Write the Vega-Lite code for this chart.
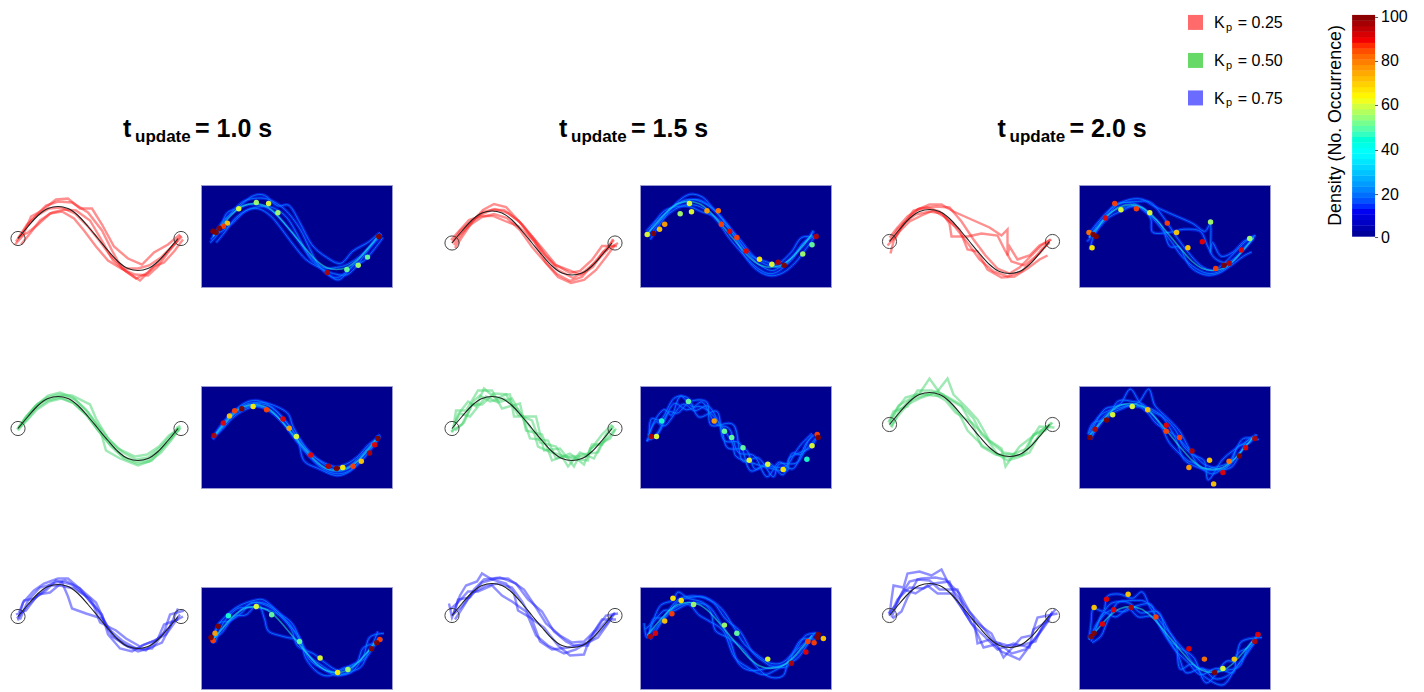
{"$schema":"https://vega.github.io/schema/vega-lite/v6.json","background":"white","padding":{"left":8,"top":8,"right":160,"bottom":0},"bounds":"flush","align":"each","columns":6,"spacing":{"row":99,"column":0},
"config":{"axis":{"disable":true},"view":{"stroke":null},"font":"Liberation Sans","style":{"traj":{"interpolate":"linear","strokeWidth":2.4,"opacity":0.5},"ref":{"interpolate":"monotone","strokeWidth":1.1},"end":{"shape":"circle","size":201,"strokeWidth":1,"opacity":0.9},"glow":{"interpolate":"cardinal","strokeWidth":3.4,"opacity":0.6},"core":{"interpolate":"cardinal","strokeWidth":1,"opacity":0.7},"mid":{"interpolate":"monotone","strokeWidth":1.6,"opacity":0.55},"hot":{"size":30,"opacity":0.95},"big":{"fontWeight":"bold","fontSize":25,"align":"left","baseline":"alphabetic","fill":"#000000"},"sub":{"fontWeight":"bold","fontSize":17,"align":"left","baseline":"alphabetic","fill":"#000000"},"key":{"fontSize":16,"align":"left","baseline":"alphabetic","fill":"#333333"},"keysub":{"fontSize":11,"align":"left","baseline":"alphabetic","fill":"#333333"},"barlabel":{"fontSize":16,"align":"left","baseline":"middle","fill":"#444444"},"bartitle":{"fontSize":17.8,"angle":270,"align":"center","baseline":"middle","fill":"#222222"}}},
"datasets":{
"ref":[{"x":0,"y":0},{"x":10,"y":12},{"x":20,"y":23},{"x":30,"y":30},{"x":40,"y":32},{"x":50,"y":30},{"x":60,"y":23},{"x":70,"y":12},{"x":80,"y":0},{"x":90,"y":-12},{"x":100,"y":-23},{"x":110,"y":-30},{"x":120,"y":-32},{"x":130,"y":-30},{"x":140,"y":-23},{"x":150,"y":-12},{"x":160,"y":0}],
"ends":[{"x":0,"y":0},{"x":163,"y":0}],
"colorbar":[{"d":1.25,"x":255.4,"y":3.69},{"d":3.75,"x":255.4,"y":9.06},{"d":6.25,"x":255.4,"y":14.43},{"d":8.75,"x":255.4,"y":19.81},{"d":11.25,"x":255.4,"y":25.18},{"d":13.75,"x":255.4,"y":30.55},{"d":16.25,"x":255.4,"y":35.92},{"d":18.75,"x":255.4,"y":41.3},{"d":21.25,"x":255.4,"y":46.67},{"d":23.75,"x":255.4,"y":52.04},{"d":26.25,"x":255.4,"y":57.41},{"d":28.75,"x":255.4,"y":62.79},{"d":31.25,"x":255.4,"y":68.16},{"d":33.75,"x":255.4,"y":73.53},{"d":36.25,"x":255.4,"y":78.9},{"d":38.75,"x":255.4,"y":84.28},{"d":41.25,"x":255.4,"y":89.65},{"d":43.75,"x":255.4,"y":95.02},{"d":46.25,"x":255.4,"y":100.39},{"d":48.75,"x":255.4,"y":105.77},{"d":51.25,"x":255.4,"y":111.14},{"d":53.75,"x":255.4,"y":116.51},{"d":56.25,"x":255.4,"y":121.88},{"d":58.75,"x":255.4,"y":127.26},{"d":61.25,"x":255.4,"y":132.63},{"d":63.75,"x":255.4,"y":138},{"d":66.25,"x":255.4,"y":143.37},{"d":68.75,"x":255.4,"y":148.75},{"d":71.25,"x":255.4,"y":154.12},{"d":73.75,"x":255.4,"y":159.49},{"d":76.25,"x":255.4,"y":164.86},{"d":78.75,"x":255.4,"y":170.24},{"d":81.25,"x":255.4,"y":175.61},{"d":83.75,"x":255.4,"y":180.98},{"d":86.25,"x":255.4,"y":186.35},{"d":88.75,"x":255.4,"y":191.73},{"d":91.25,"x":255.4,"y":197.1},{"d":93.75,"x":255.4,"y":202.47},{"d":96.25,"x":255.4,"y":207.84},{"d":98.75,"x":255.4,"y":213.22}],
"ticks":[{"s":"0","x":283.5,"tx":277.7,"y":0},{"s":"20","x":283.5,"tx":277.7,"y":41.7},{"s":"40","x":283.5,"tx":277.7,"y":84.5},{"s":"60","x":283.5,"tx":277.7,"y":128.2},{"s":"80","x":283.5,"tx":277.7,"y":170.9},{"s":"100","x":283.5,"tx":277.7,"y":213.6}],
"a1":[{"t":1,"x":-2,"y":-3},{"t":1,"x":6,"y":8},{"t":1,"x":15,"y":20},{"t":1,"x":28,"y":33},{"t":1,"x":40,"y":37},{"t":1,"x":54,"y":36},{"t":1,"x":70,"y":26},{"t":1,"x":84,"y":8},{"t":1,"x":94,"y":-12},{"t":1,"x":104,"y":-30},{"t":1,"x":118,"y":-40},{"t":1,"x":130,"y":-34},{"t":1,"x":142,"y":-22},{"t":1,"x":154,"y":-8},{"t":1,"x":164,"y":2},
{"t":2,"x":2,"y":2},{"t":2,"x":10,"y":6},{"t":2,"x":20,"y":14},{"t":2,"x":32,"y":25},{"t":2,"x":44,"y":27},{"t":2,"x":56,"y":20},{"t":2,"x":66,"y":8},{"t":2,"x":78,"y":-8},{"t":2,"x":90,"y":-22},{"t":2,"x":103,"y":-30},{"t":2,"x":117,"y":-36},{"t":2,"x":130,"y":-37},{"t":2,"x":140,"y":-28},{"t":2,"x":150,"y":-14},{"t":2,"x":160,"y":-2},
{"t":3,"x":-3,"y":-6},{"t":3,"x":5,"y":3},{"t":3,"x":13,"y":22},{"t":3,"x":24,"y":28},{"t":3,"x":38,"y":39},{"t":3,"x":50,"y":40},{"t":3,"x":62,"y":30},{"t":3,"x":74,"y":30},{"t":3,"x":84,"y":14},{"t":3,"x":96,"y":-8},{"t":3,"x":110,"y":-20},{"t":3,"x":124,"y":-26},{"t":3,"x":136,"y":-14},{"t":3,"x":150,"y":-6},{"t":3,"x":162,"y":4},
{"t":4,"x":0,"y":0},{"t":4,"x":9,"y":14},{"t":4,"x":19,"y":23},{"t":4,"x":31,"y":30},{"t":4,"x":43,"y":31},{"t":4,"x":57,"y":25},{"t":4,"x":70,"y":12},{"t":4,"x":82,"y":-3},{"t":4,"x":93,"y":-18},{"t":4,"x":107,"y":-30},{"t":4,"x":120,"y":-30},{"t":4,"x":131,"y":-27},{"t":4,"x":143,"y":-19},{"t":4,"x":153,"y":-9},{"t":4,"x":163,"y":3},
{"t":5,"x":3,"y":-6},{"t":5,"x":12,"y":5},{"t":5,"x":22,"y":18},{"t":5,"x":34,"y":26},{"t":5,"x":46,"y":29},{"t":5,"x":58,"y":28},{"t":5,"x":72,"y":18},{"t":5,"x":85,"y":-4},{"t":5,"x":95,"y":-22},{"t":5,"x":108,"y":-33},{"t":5,"x":122,"y":-42},{"t":5,"x":136,"y":-28},{"t":5,"x":146,"y":-24},{"t":5,"x":156,"y":-13},{"t":5,"x":165,"y":-1}],
"a2":[{"t":1,"x":0,"y":0},{"t":1,"x":8,"y":9},{"t":1,"x":18,"y":18},{"t":1,"x":30,"y":26},{"t":1,"x":42,"y":29},{"t":1,"x":55,"y":25},{"t":1,"x":68,"y":13},{"t":1,"x":80,"y":-4},{"t":1,"x":92,"y":-18},{"t":1,"x":105,"y":-31},{"t":1,"x":118,"y":-38},{"t":1,"x":130,"y":-34},{"t":1,"x":142,"y":-20},{"t":1,"x":152,"y":-8},{"t":1,"x":162,"y":3},
{"t":2,"x":3,"y":-5},{"t":2,"x":10,"y":6},{"t":2,"x":21,"y":22},{"t":2,"x":31,"y":33},{"t":2,"x":42,"y":39},{"t":2,"x":54,"y":36},{"t":2,"x":65,"y":24},{"t":2,"x":77,"y":10},{"t":2,"x":90,"y":-5},{"t":2,"x":104,"y":-22},{"t":2,"x":118,"y":-30},{"t":2,"x":128,"y":-28},{"t":2,"x":140,"y":-17},{"t":2,"x":150,"y":-3},{"t":2,"x":165,"y":-3},
{"t":3,"x":-1,"y":3},{"t":3,"x":7,"y":12},{"t":3,"x":17,"y":23},{"t":3,"x":29,"y":27},{"t":3,"x":41,"y":27},{"t":3,"x":53,"y":22},{"t":3,"x":66,"y":17},{"t":3,"x":82,"y":2},{"t":3,"x":94,"y":-20},{"t":3,"x":106,"y":-34},{"t":3,"x":119,"y":-40},{"t":3,"x":132,"y":-37},{"t":3,"x":144,"y":-27},{"t":3,"x":154,"y":-14},{"t":3,"x":163,"y":-2},
{"t":4,"x":2,"y":-2},{"t":4,"x":9,"y":8},{"t":4,"x":19,"y":21},{"t":4,"x":31,"y":31},{"t":4,"x":43,"y":34},{"t":4,"x":56,"y":30},{"t":4,"x":70,"y":19},{"t":4,"x":83,"y":3},{"t":4,"x":93,"y":-12},{"t":4,"x":103,"y":-22},{"t":4,"x":117,"y":-27},{"t":4,"x":129,"y":-32},{"t":4,"x":141,"y":-24},{"t":4,"x":151,"y":-9},{"t":4,"x":166,"y":0},
{"t":5,"x":1,"y":2},{"t":5,"x":8,"y":12},{"t":5,"x":16,"y":19},{"t":5,"x":28,"y":28},{"t":5,"x":40,"y":33},{"t":5,"x":52,"y":33},{"t":5,"x":67,"y":22},{"t":5,"x":79,"y":6},{"t":5,"x":91,"y":-10},{"t":5,"x":106,"y":-27},{"t":5,"x":121,"y":-35},{"t":5,"x":133,"y":-28},{"t":5,"x":145,"y":-18},{"t":5,"x":155,"y":-7},{"t":5,"x":161,"y":4}],
"a3":[{"t":1,"x":0,"y":0},{"t":1,"x":8,"y":12},{"t":1,"x":18,"y":22},{"t":1,"x":28,"y":32},{"t":1,"x":40,"y":37},{"t":1,"x":52,"y":37},{"t":1,"x":64,"y":30},{"t":1,"x":82,"y":22},{"t":1,"x":100,"y":14},{"t":1,"x":118,"y":12},{"t":1,"x":112,"y":6},{"t":1,"x":120,"y":-5},{"t":1,"x":118,"y":-14},{"t":1,"x":128,"y":-18},{"t":1,"x":140,"y":-14},{"t":1,"x":150,"y":-4},{"t":1,"x":162,"y":2},
{"t":2,"x":-2,"y":-4},{"t":2,"x":6,"y":5},{"t":2,"x":14,"y":18},{"t":2,"x":26,"y":27},{"t":2,"x":40,"y":30},{"t":2,"x":53,"y":28},{"t":2,"x":60,"y":18},{"t":2,"x":62,"y":5},{"t":2,"x":78,"y":5},{"t":2,"x":92,"y":8},{"t":2,"x":108,"y":6},{"t":2,"x":115,"y":-8},{"t":2,"x":122,"y":-20},{"t":2,"x":135,"y":-24},{"t":2,"x":150,"y":-12},{"t":2,"x":160,"y":0},
{"t":3,"x":1,"y":-12},{"t":3,"x":4,"y":0},{"t":3,"x":12,"y":14},{"t":3,"x":24,"y":31},{"t":3,"x":38,"y":34},{"t":3,"x":50,"y":30},{"t":3,"x":66,"y":14},{"t":3,"x":80,"y":-4},{"t":3,"x":90,"y":-18},{"t":3,"x":104,"y":-30},{"t":3,"x":118,"y":-35},{"t":3,"x":132,"y":-30},{"t":3,"x":144,"y":-18},{"t":3,"x":152,"y":-8},{"t":3,"x":160,"y":-1},
{"t":4,"x":3,"y":2},{"t":4,"x":10,"y":10},{"t":4,"x":20,"y":20},{"t":4,"x":32,"y":26},{"t":4,"x":44,"y":31},{"t":4,"x":56,"y":24},{"t":4,"x":70,"y":12},{"t":4,"x":78,"y":-8},{"t":4,"x":88,"y":-10},{"t":4,"x":98,"y":-28},{"t":4,"x":112,"y":-36},{"t":4,"x":125,"y":-35},{"t":4,"x":138,"y":-27},{"t":4,"x":150,"y":-18},{"t":4,"x":158,"y":-14},
{"t":5,"x":0,"y":4},{"t":5,"x":8,"y":14},{"t":5,"x":18,"y":25},{"t":5,"x":30,"y":33},{"t":5,"x":47,"y":35},{"t":5,"x":60,"y":34},{"t":5,"x":72,"y":20},{"t":5,"x":84,"y":2},{"t":5,"x":96,"y":-14},{"t":5,"x":108,"y":-27},{"t":5,"x":120,"y":-32},{"t":5,"x":130,"y":-26},{"t":5,"x":140,"y":-16},{"t":5,"x":152,"y":-4},{"t":5,"x":161,"y":2}],
"b1":[{"t":1,"x":0,"y":0},{"t":1,"x":8,"y":12},{"t":1,"x":18,"y":23},{"t":1,"x":30,"y":33},{"t":1,"x":42,"y":36},{"t":1,"x":55,"y":31},{"t":1,"x":68,"y":19},{"t":1,"x":80,"y":3},{"t":1,"x":92,"y":-12},{"t":1,"x":105,"y":-24},{"t":1,"x":118,"y":-31},{"t":1,"x":130,"y":-29},{"t":1,"x":142,"y":-19},{"t":1,"x":152,"y":-8},{"t":1,"x":162,"y":3},
{"t":2,"x":1,"y":1},{"t":2,"x":9,"y":8},{"t":2,"x":19,"y":19},{"t":2,"x":31,"y":27},{"t":2,"x":43,"y":30},{"t":2,"x":56,"y":25},{"t":2,"x":69,"y":13},{"t":2,"x":81,"y":-3},{"t":2,"x":93,"y":-18},{"t":2,"x":106,"y":-30},{"t":2,"x":119,"y":-35},{"t":2,"x":131,"y":-33},{"t":2,"x":143,"y":-24},{"t":2,"x":153,"y":-12},{"t":2,"x":161,"y":-1},
{"t":3,"x":-1,"y":-1},{"t":3,"x":7,"y":10},{"t":3,"x":17,"y":22},{"t":3,"x":29,"y":31},{"t":3,"x":41,"y":34},{"t":3,"x":54,"y":33},{"t":3,"x":72,"y":24},{"t":3,"x":78,"y":10},{"t":3,"x":90,"y":-10},{"t":3,"x":100,"y":-20},{"t":3,"x":117,"y":-28},{"t":3,"x":129,"y":-26},{"t":3,"x":141,"y":-18},{"t":3,"x":151,"y":-7},{"t":3,"x":163,"y":1},
{"t":4,"x":2,"y":2},{"t":4,"x":10,"y":13},{"t":4,"x":20,"y":25},{"t":4,"x":32,"y":30},{"t":4,"x":44,"y":33},{"t":4,"x":57,"y":29},{"t":4,"x":70,"y":16},{"t":4,"x":82,"y":-1},{"t":4,"x":88,"y":-22},{"t":4,"x":102,"y":-30},{"t":4,"x":120,"y":-37},{"t":4,"x":134,"y":-32},{"t":4,"x":144,"y":-20},{"t":4,"x":154,"y":-9},{"t":4,"x":160,"y":2},
{"t":5,"x":0,"y":-2},{"t":5,"x":8,"y":8},{"t":5,"x":18,"y":20},{"t":5,"x":30,"y":28},{"t":5,"x":42,"y":31},{"t":5,"x":55,"y":26},{"t":5,"x":68,"y":14},{"t":5,"x":80,"y":-2},{"t":5,"x":92,"y":-16},{"t":5,"x":105,"y":-28},{"t":5,"x":118,"y":-33},{"t":5,"x":130,"y":-31},{"t":5,"x":142,"y":-22},{"t":5,"x":152,"y":-11},{"t":5,"x":162,"y":0}],
"b2":[{"t":1,"x":0,"y":-4},{"t":1,"x":6,"y":14},{"t":1,"x":16,"y":27},{"t":1,"x":24,"y":22},{"t":1,"x":32,"y":40},{"t":1,"x":44,"y":30},{"t":1,"x":54,"y":34},{"t":1,"x":66,"y":14},{"t":1,"x":80,"y":8},{"t":1,"x":88,"y":-14},{"t":1,"x":104,"y":-18},{"t":1,"x":116,"y":-38},{"t":1,"x":128,"y":-24},{"t":1,"x":142,"y":-30},{"t":1,"x":154,"y":-6},{"t":1,"x":162,"y":2},
{"t":2,"x":2,"y":5},{"t":2,"x":4,"y":18},{"t":2,"x":14,"y":18},{"t":2,"x":26,"y":38},{"t":2,"x":40,"y":38},{"t":2,"x":50,"y":20},{"t":2,"x":68,"y":25},{"t":2,"x":74,"y":-2},{"t":2,"x":90,"y":-6},{"t":2,"x":100,"y":-32},{"t":2,"x":118,"y":-25},{"t":2,"x":132,"y":-36},{"t":2,"x":140,"y":-16},{"t":2,"x":150,"y":-16},{"t":2,"x":163,"y":-1},
{"t":3,"x":-1,"y":-3},{"t":3,"x":10,"y":4},{"t":3,"x":20,"y":24},{"t":3,"x":30,"y":24},{"t":3,"x":42,"y":35},{"t":3,"x":58,"y":34},{"t":3,"x":62,"y":12},{"t":3,"x":84,"y":12},{"t":3,"x":92,"y":-22},{"t":3,"x":108,"y":-20},{"t":3,"x":122,"y":-38},{"t":3,"x":128,"y":-26},{"t":3,"x":146,"y":-24},{"t":3,"x":156,"y":-4},{"t":3,"x":161,"y":3},
{"t":4,"x":1,"y":2},{"t":4,"x":8,"y":15},{"t":4,"x":18,"y":12},{"t":4,"x":34,"y":32},{"t":4,"x":46,"y":26},{"t":4,"x":60,"y":30},{"t":4,"x":72,"y":8},{"t":4,"x":78,"y":-10},{"t":4,"x":96,"y":-12},{"t":4,"x":104,"y":-30},{"t":4,"x":114,"y":-28},{"t":4,"x":134,"y":-28},{"t":4,"x":144,"y":-14},{"t":4,"x":150,"y":-6},{"t":4,"x":160,"y":4},
{"t":5,"x":3,"y":-2},{"t":5,"x":12,"y":6},{"t":5,"x":22,"y":28},{"t":5,"x":28,"y":33},{"t":5,"x":38,"y":27},{"t":5,"x":52,"y":30},{"t":5,"x":66,"y":19},{"t":5,"x":82,"y":-4},{"t":5,"x":86,"y":-18},{"t":5,"x":100,"y":-24},{"t":5,"x":120,"y":-30},{"t":5,"x":136,"y":-32},{"t":5,"x":138,"y":-20},{"t":5,"x":158,"y":-10},{"t":5,"x":164,"y":0}],
"b3":[{"t":1,"x":0,"y":0},{"t":1,"x":8,"y":16},{"t":1,"x":16,"y":27},{"t":1,"x":30,"y":31},{"t":1,"x":40,"y":46},{"t":1,"x":50,"y":32},{"t":1,"x":62,"y":24},{"t":1,"x":72,"y":18},{"t":1,"x":84,"y":-2},{"t":1,"x":92,"y":-22},{"t":1,"x":106,"y":-30},{"t":1,"x":120,"y":-33},{"t":1,"x":134,"y":-30},{"t":1,"x":146,"y":-16},{"t":1,"x":162,"y":2},
{"t":2,"x":2,"y":-3},{"t":2,"x":10,"y":14},{"t":2,"x":20,"y":24},{"t":2,"x":34,"y":29},{"t":2,"x":48,"y":33},{"t":2,"x":58,"y":46},{"t":2,"x":64,"y":30},{"t":2,"x":76,"y":18},{"t":2,"x":88,"y":5},{"t":2,"x":100,"y":-16},{"t":2,"x":112,"y":-24},{"t":2,"x":116,"y":-42},{"t":2,"x":130,"y":-22},{"t":2,"x":148,"y":-8},{"t":2,"x":158,"y":-2},
{"t":3,"x":-1,"y":2},{"t":3,"x":4,"y":13},{"t":3,"x":18,"y":18},{"t":3,"x":28,"y":34},{"t":3,"x":42,"y":34},{"t":3,"x":54,"y":30},{"t":3,"x":70,"y":10},{"t":3,"x":78,"y":-6},{"t":3,"x":94,"y":-22},{"t":3,"x":102,"y":-26},{"t":3,"x":118,"y":-36},{"t":3,"x":128,"y":-33},{"t":3,"x":140,"y":-28},{"t":3,"x":152,"y":-6},{"t":3,"x":160,"y":0},
{"t":4,"x":1,"y":-2},{"t":4,"x":8,"y":8},{"t":4,"x":18,"y":20},{"t":4,"x":32,"y":27},{"t":4,"x":44,"y":31},{"t":4,"x":56,"y":24},{"t":4,"x":66,"y":12},{"t":4,"x":82,"y":2},{"t":4,"x":96,"y":-12},{"t":4,"x":108,"y":-30},{"t":4,"x":122,"y":-30},{"t":4,"x":138,"y":-24},{"t":4,"x":144,"y":-10},{"t":4,"x":156,"y":-6},{"t":4,"x":163,"y":2},
{"t":5,"x":0,"y":3},{"t":5,"x":9,"y":19},{"t":5,"x":21,"y":26},{"t":5,"x":31,"y":31},{"t":5,"x":43,"y":29},{"t":5,"x":57,"y":28},{"t":5,"x":71,"y":20},{"t":5,"x":84,"y":6},{"t":5,"x":92,"y":-10},{"t":5,"x":104,"y":-20},{"t":5,"x":114,"y":-28},{"t":5,"x":132,"y":-31},{"t":5,"x":142,"y":-14},{"t":5,"x":150,"y":-2},{"t":5,"x":165,"y":-3}],
"c1":[{"t":1,"x":0,"y":-4},{"t":1,"x":5,"y":14},{"t":1,"x":16,"y":26},{"t":1,"x":26,"y":33},{"t":1,"x":40,"y":38},{"t":1,"x":50,"y":38},{"t":1,"x":64,"y":26},{"t":1,"x":78,"y":14},{"t":1,"x":90,"y":-12},{"t":1,"x":104,"y":-24},{"t":1,"x":118,"y":-32},{"t":1,"x":134,"y":-32},{"t":1,"x":146,"y":-16},{"t":1,"x":152,"y":2},{"t":1,"x":166,"y":6},
{"t":2,"x":-2,"y":2},{"t":2,"x":8,"y":6},{"t":2,"x":20,"y":22},{"t":2,"x":32,"y":24},{"t":2,"x":44,"y":34},{"t":2,"x":50,"y":20},{"t":2,"x":54,"y":8},{"t":2,"x":68,"y":3},{"t":2,"x":84,"y":-2},{"t":2,"x":94,"y":-20},{"t":2,"x":110,"y":-30},{"t":2,"x":128,"y":-34},{"t":2,"x":140,"y":-22},{"t":2,"x":146,"y":-8},{"t":2,"x":160,"y":-3},
{"t":3,"x":2,"y":-3},{"t":3,"x":10,"y":16},{"t":3,"x":22,"y":29},{"t":3,"x":30,"y":31},{"t":3,"x":42,"y":31},{"t":3,"x":56,"y":28},{"t":3,"x":72,"y":18},{"t":3,"x":86,"y":-4},{"t":3,"x":96,"y":-20},{"t":3,"x":106,"y":-28},{"t":3,"x":120,"y":-35},{"t":3,"x":130,"y":-32},{"t":3,"x":144,"y":-26},{"t":3,"x":154,"y":-6},{"t":3,"x":165,"y":0},
{"t":4,"x":1,"y":4},{"t":4,"x":6,"y":16},{"t":4,"x":16,"y":18},{"t":4,"x":28,"y":26},{"t":4,"x":38,"y":36},{"t":4,"x":54,"y":32},{"t":4,"x":66,"y":22},{"t":4,"x":84,"y":2},{"t":4,"x":90,"y":-18},{"t":4,"x":102,"y":-32},{"t":4,"x":114,"y":-35},{"t":4,"x":126,"y":-28},{"t":4,"x":138,"y":-24},{"t":4,"x":152,"y":-10},{"t":4,"x":160,"y":8},
{"t":5,"x":-1,"y":-2},{"t":5,"x":9,"y":10},{"t":5,"x":19,"y":20},{"t":5,"x":33,"y":33},{"t":5,"x":47,"y":36},{"t":5,"x":62,"y":28},{"t":5,"x":76,"y":10},{"t":5,"x":82,"y":-6},{"t":5,"x":98,"y":-14},{"t":5,"x":108,"y":-22},{"t":5,"x":122,"y":-30},{"t":5,"x":136,"y":-24},{"t":5,"x":148,"y":-18},{"t":5,"x":158,"y":-4},{"t":5,"x":162,"y":2}],
"c2":[{"t":1,"x":0,"y":-2},{"t":1,"x":-3,"y":12},{"t":1,"x":8,"y":20},{"t":1,"x":14,"y":30},{"t":1,"x":25,"y":34},{"t":1,"x":30,"y":42},{"t":1,"x":40,"y":36},{"t":1,"x":54,"y":32},{"t":1,"x":62,"y":22},{"t":1,"x":66,"y":5},{"t":1,"x":78,"y":-2},{"t":1,"x":92,"y":-12},{"t":1,"x":106,"y":-30},{"t":1,"x":118,"y":-40},{"t":1,"x":132,"y":-39},{"t":1,"x":138,"y":-22},{"t":1,"x":152,"y":-8},{"t":1,"x":162,"y":2},
{"t":2,"x":2,"y":2},{"t":2,"x":6,"y":16},{"t":2,"x":18,"y":18},{"t":2,"x":30,"y":33},{"t":2,"x":44,"y":37},{"t":2,"x":56,"y":37},{"t":2,"x":72,"y":26},{"t":2,"x":84,"y":8},{"t":2,"x":94,"y":-8},{"t":2,"x":108,"y":-20},{"t":2,"x":120,"y":-27},{"t":2,"x":132,"y":-26},{"t":2,"x":144,"y":-14},{"t":2,"x":154,"y":0},{"t":2,"x":166,"y":2},
{"t":3,"x":-2,"y":6},{"t":3,"x":6,"y":13},{"t":3,"x":16,"y":24},{"t":3,"x":26,"y":24},{"t":3,"x":40,"y":30},{"t":3,"x":50,"y":20},{"t":3,"x":60,"y":14},{"t":3,"x":74,"y":4},{"t":3,"x":84,"y":-20},{"t":3,"x":96,"y":-30},{"t":3,"x":112,"y":-38},{"t":3,"x":124,"y":-34},{"t":3,"x":140,"y":-24},{"t":3,"x":148,"y":-16},{"t":3,"x":160,"y":-2},
{"t":4,"x":0,"y":0},{"t":4,"x":9,"y":8},{"t":4,"x":20,"y":22},{"t":4,"x":34,"y":30},{"t":4,"x":46,"y":32},{"t":4,"x":60,"y":28},{"t":4,"x":70,"y":14},{"t":4,"x":80,"y":-4},{"t":4,"x":88,"y":-26},{"t":4,"x":100,"y":-34},{"t":4,"x":116,"y":-32},{"t":4,"x":134,"y":-28},{"t":4,"x":146,"y":-22},{"t":4,"x":156,"y":-8},{"t":4,"x":163,"y":3},
{"t":5,"x":3,"y":-4},{"t":5,"x":12,"y":10},{"t":5,"x":22,"y":26},{"t":5,"x":32,"y":36},{"t":5,"x":48,"y":38},{"t":5,"x":64,"y":32},{"t":5,"x":76,"y":16},{"t":5,"x":90,"y":4},{"t":5,"x":102,"y":-16},{"t":5,"x":114,"y":-26},{"t":5,"x":122,"y":-30},{"t":5,"x":136,"y":-30},{"t":5,"x":142,"y":-16},{"t":5,"x":150,"y":-4},{"t":5,"x":164,"y":-4}],
"c3":[{"t":1,"x":0,"y":0},{"t":1,"x":2,"y":16},{"t":1,"x":4,"y":30},{"t":1,"x":14,"y":28},{"t":1,"x":18,"y":42},{"t":1,"x":30,"y":44},{"t":1,"x":42,"y":40},{"t":1,"x":52,"y":46},{"t":1,"x":60,"y":30},{"t":1,"x":72,"y":14},{"t":1,"x":84,"y":-2},{"t":1,"x":88,"y":-28},{"t":1,"x":100,"y":-24},{"t":1,"x":112,"y":-36},{"t":1,"x":130,"y":-44},{"t":1,"x":142,"y":-28},{"t":1,"x":152,"y":-14},{"t":1,"x":162,"y":2},
{"t":2,"x":2,"y":-2},{"t":2,"x":10,"y":18},{"t":2,"x":20,"y":34},{"t":2,"x":32,"y":37},{"t":2,"x":46,"y":38},{"t":2,"x":56,"y":36},{"t":2,"x":70,"y":22},{"t":2,"x":80,"y":4},{"t":2,"x":92,"y":-10},{"t":2,"x":104,"y":-26},{"t":2,"x":118,"y":-30},{"t":2,"x":130,"y":-30},{"t":2,"x":146,"y":-26},{"t":2,"x":154,"y":-8},{"t":2,"x":166,"y":6},
{"t":3,"x":-1,"y":2},{"t":3,"x":6,"y":10},{"t":3,"x":14,"y":26},{"t":3,"x":26,"y":22},{"t":3,"x":38,"y":30},{"t":3,"x":48,"y":22},{"t":3,"x":62,"y":22},{"t":3,"x":72,"y":8},{"t":3,"x":86,"y":-14},{"t":3,"x":94,"y":-32},{"t":3,"x":110,"y":-28},{"t":3,"x":122,"y":-38},{"t":3,"x":136,"y":-34},{"t":3,"x":150,"y":-18},{"t":3,"x":160,"y":-4},
{"t":4,"x":1,"y":1},{"t":4,"x":8,"y":16},{"t":4,"x":20,"y":28},{"t":4,"x":34,"y":27},{"t":4,"x":44,"y":32},{"t":4,"x":60,"y":34},{"t":4,"x":66,"y":18},{"t":4,"x":82,"y":-8},{"t":4,"x":96,"y":-22},{"t":4,"x":108,"y":-34},{"t":4,"x":124,"y":-28},{"t":4,"x":140,"y":-32},{"t":4,"x":144,"y":-14},{"t":4,"x":158,"y":-6},{"t":4,"x":163,"y":4},
{"t":5,"x":3,"y":-3},{"t":5,"x":12,"y":4},{"t":5,"x":18,"y":18},{"t":5,"x":28,"y":36},{"t":5,"x":40,"y":35},{"t":5,"x":50,"y":26},{"t":5,"x":68,"y":26},{"t":5,"x":76,"y":2},{"t":5,"x":88,"y":-8},{"t":5,"x":102,"y":-18},{"t":5,"x":114,"y":-42},{"t":5,"x":132,"y":-22},{"t":5,"x":142,"y":-20},{"t":5,"x":148,"y":-2},{"t":5,"x":168,"y":2}],
"hot":[{"p":"a1","x":0,"y":5,"d":100},{"p":"a1","x":3,"y":4,"d":100},{"p":"a1","x":6,"y":8,"d":100},{"p":"a1","x":10,"y":10,"d":85},{"p":"a1","x":14,"y":13,"d":70},{"p":"a1","x":25,"y":27,"d":60},{"p":"a1","x":42,"y":33,"d":55},{"p":"a1","x":54,"y":32,"d":60},{"p":"a1","x":63,"y":23,"d":55},{"p":"a1","x":161,"y":0,"d":100},{"p":"a1","x":111,"y":-35,"d":95},{"p":"a1","x":130,"y":-32,"d":50},{"p":"a1","x":150,"y":-20,"d":50},{"p":"a1","x":141,"y":-28,"d":55},
{"p":"a2","x":6,"y":1,"d":100},{"p":"a2","x":0,"y":0,"d":60},{"p":"a2","x":12,"y":5,"d":70},{"p":"a2","x":17,"y":10,"d":75},{"p":"a2","x":41,"y":30,"d":60},{"p":"a2","x":32,"y":20,"d":55},{"p":"a2","x":43,"y":22,"d":60},{"p":"a2","x":58,"y":23,"d":75},{"p":"a2","x":69,"y":23,"d":80},{"p":"a2","x":72,"y":10,"d":85},{"p":"a2","x":80,"y":3,"d":90},{"p":"a2","x":87,"y":-3,"d":85},{"p":"a2","x":96,"y":-16,"d":90},{"p":"a2","x":109,"y":-24,"d":65},{"p":"a2","x":127,"y":-27,"d":95},{"p":"a2","x":133,"y":-30,"d":100},{"p":"a2","x":121,"y":-29,"d":60},{"p":"a2","x":151,"y":-19,"d":55},{"p":"a2","x":164,"y":-2,"d":95},{"p":"a2","x":160,"y":-10,"d":50},
{"p":"a3","x":4,"y":3,"d":100},{"p":"a3","x":7,"y":1,"d":100},{"p":"a3","x":0,"y":5,"d":80},{"p":"a3","x":3,"y":-10,"d":65},{"p":"a3","x":16,"y":19,"d":90},{"p":"a3","x":25,"y":33,"d":85},{"p":"a3","x":31,"y":27,"d":60},{"p":"a3","x":46,"y":28,"d":85},{"p":"a3","x":59,"y":24,"d":60},{"p":"a3","x":76,"y":14,"d":85},{"p":"a3","x":85,"y":5,"d":70},{"p":"a3","x":96,"y":-10,"d":70},{"p":"a3","x":110,"y":-4,"d":90},{"p":"a3","x":123,"y":-30,"d":85},{"p":"a3","x":131,"y":-27,"d":100},{"p":"a3","x":136,"y":-25,"d":95},{"p":"a3","x":148,"y":-12,"d":90},{"p":"a3","x":118,"y":15,"d":55},{"p":"a3","x":156,"y":-1,"d":55},
{"p":"b1","x":1,"y":2,"d":95},{"p":"b1","x":10,"y":14,"d":90},{"p":"b1","x":16,"y":21,"d":70},{"p":"b1","x":28,"y":28,"d":100},{"p":"b1","x":39,"y":30,"d":65},{"p":"b1","x":52,"y":27,"d":85},{"p":"b1","x":68,"y":18,"d":90},{"p":"b1","x":74,"y":9,"d":75},{"p":"b1","x":81,"y":1,"d":60},{"p":"b1","x":95,"y":-17,"d":90},{"p":"b1","x":112,"y":-28,"d":95},{"p":"b1","x":120,"y":-30,"d":100},{"p":"b1","x":136,"y":-28,"d":85},{"p":"b1","x":144,"y":-23,"d":70},{"p":"b1","x":152,"y":-15,"d":95},{"p":"b1","x":157,"y":-7,"d":90},{"p":"b1","x":160,"y":-1,"d":100},{"p":"b1","x":126,"y":-29,"d":65},{"p":"b1","x":21,"y":26,"d":85},
{"p":"b2","x":4,"y":1,"d":95},{"p":"b2","x":9,"y":1,"d":60},{"p":"b2","x":14,"y":16,"d":45},{"p":"b2","x":40,"y":35,"d":50},{"p":"b2","x":65,"y":16,"d":75},{"p":"b2","x":75,"y":6,"d":50},{"p":"b2","x":82,"y":0,"d":50},{"p":"b2","x":93,"y":-10,"d":50},{"p":"b2","x":99,"y":-22,"d":60},{"p":"b2","x":117,"y":-26,"d":60},{"p":"b2","x":132,"y":-31,"d":65},{"p":"b2","x":155,"y":-21,"d":45},{"p":"b2","x":160,"y":-8,"d":60},{"p":"b2","x":166,"y":0,"d":100},{"p":"b2","x":165,"y":3,"d":85},
{"p":"b3","x":1,"y":-1,"d":100},{"p":"b3","x":6,"y":7,"d":95},{"p":"b3","x":17,"y":16,"d":100},{"p":"b3","x":23,"y":21,"d":60},{"p":"b3","x":42,"y":29,"d":60},{"p":"b3","x":57,"y":26,"d":70},{"p":"b3","x":75,"y":11,"d":90},{"p":"b3","x":75,"y":5,"d":85},{"p":"b3","x":88,"y":-1,"d":85},{"p":"b3","x":100,"y":-14,"d":95},{"p":"b3","x":117,"y":-23,"d":70},{"p":"b3","x":130,"y":-35,"d":90},{"p":"b3","x":121,"y":-46,"d":70},{"p":"b3","x":146,"y":-19,"d":100},{"p":"b3","x":152,"y":-11,"d":90},{"p":"b3","x":161,"y":-2,"d":95},{"p":"b3","x":97,"y":-30,"d":75},{"p":"b3","x":136,"y":-24,"d":80},
{"p":"c1","x":-2,"y":2,"d":100},{"p":"c1","x":5,"y":13,"d":100},{"p":"c1","x":2,"y":6,"d":75},{"p":"c1","x":0,"y":-1,"d":85},{"p":"c1","x":42,"y":32,"d":60},{"p":"c1","x":57,"y":24,"d":50},{"p":"c1","x":84,"y":-2,"d":50},{"p":"c1","x":104,"y":-18,"d":60},{"p":"c1","x":121,"y":-32,"d":65},{"p":"c1","x":131,"y":-29,"d":55},{"p":"c1","x":154,"y":-9,"d":100},{"p":"c1","x":159,"y":-3,"d":100},{"p":"c1","x":162,"y":0,"d":85},{"p":"c1","x":15,"y":23,"d":45},
{"p":"c2","x":3,"y":-1,"d":95},{"p":"c2","x":8,"y":2,"d":90},{"p":"c2","x":17,"y":14,"d":70},{"p":"c2","x":24,"y":21,"d":85},{"p":"c2","x":33,"y":34,"d":65},{"p":"c2","x":25,"y":36,"d":65},{"p":"c2","x":45,"y":30,"d":55},{"p":"c2","x":75,"y":10,"d":55},{"p":"c2","x":87,"y":2,"d":50},{"p":"c2","x":117,"y":-23,"d":60},{"p":"c2","x":140,"y":-27,"d":95},{"p":"c2","x":154,"y":-16,"d":90},{"p":"c2","x":156,"y":-6,"d":85},{"p":"c2","x":162,"y":-7,"d":85},{"p":"c2","x":165,"y":-2,"d":100},{"p":"c2","x":166,"y":1,"d":100},{"p":"c2","x":171,"y":-3,"d":70},
{"p":"c3","x":2,"y":3,"d":100},{"p":"c3","x":5,"y":6,"d":100},{"p":"c3","x":13,"y":15,"d":90},{"p":"c3","x":5,"y":31,"d":70},{"p":"c3","x":17,"y":39,"d":90},{"p":"c3","x":24,"y":29,"d":90},{"p":"c3","x":41,"y":31,"d":95},{"p":"c3","x":38,"y":44,"d":70},{"p":"c3","x":65,"y":22,"d":85},{"p":"c3","x":97,"y":-9,"d":90},{"p":"c3","x":112,"y":-19,"d":80},{"p":"c3","x":122,"y":-32,"d":100},{"p":"c3","x":141,"y":-19,"d":70},{"p":"c3","x":161,"y":-2,"d":95},{"p":"c3","x":164,"y":5,"d":90},{"p":"c3","x":130,"y":-28,"d":60}]
},
"concat":[
{"width":193,"height":102,"encoding":{"x":{"field":"x","type":"quantitative","scale":{"domain":[-10,183]}},"y":{"field":"y","type":"quantitative","scale":{"domain":[-48.5,53.5]}}},"layer":[{"data":{"name":"a1"},"mark":{"type":"line","style":"traj","color":"#ff2020"},"encoding":{"detail":{"field":"t"}}},{"data":{"name":"ref"},"mark":{"type":"line","style":"ref","color":"#222222"}},{"data":{"name":"ends"},"mark":{"type":"point","style":"end","color":"#333333"}},{"data":{"values":[{"s":"t","x":105,"y":101.5},{"s":"= 1.0 s","x":177,"y":101.5}]},"mark":{"type":"text","style":"big"},"encoding":{"text":{"field":"s"}}},{"data":{"values":[{"s":"update","x":117,"y":96.3}]},"mark":{"type":"text","style":"sub"},"encoding":{"text":{"field":"s"}}}]},
{"width":191,"height":102,"view":{"fill":"#00008f","stroke":"#9a9ad0"},"encoding":{"x":{"field":"x","type":"quantitative","scale":{"domain":[-11.65,173.8]}},"y":{"field":"y","type":"quantitative","scale":{"domain":[-49,50]}}},"layer":[{"data":{"name":"a1"},"mark":{"type":"line","style":"glow","color":"#0a30ff"},"encoding":{"detail":{"field":"t"}}},{"data":{"name":"a1"},"mark":{"type":"line","style":"core","color":"#0090ff"},"encoding":{"detail":{"field":"t"}}},{"data":{"name":"ref"},"mark":{"type":"line","style":"mid","color":"#20f0e0"}},{"data":{"name":"hot"},"transform":[{"filter":"datum.p=='a1'"}],"mark":{"type":"circle","style":"hot"},"encoding":{"order":{"field":"d"},"color":{"field":"d","type":"quantitative","legend":null,"scale":{"domain":[0,12.5,37.5,62.5,87.5,100],"range":["#00008f","#0000ff","#00ffff","#ffff00","#ff0000","#800000"]}}}}]},
{"width":247.5,"height":102,"encoding":{"x":{"field":"x","type":"quantitative","scale":{"domain":[-60,187.5]}},"y":{"field":"y","type":"quantitative","scale":{"domain":[-44,58]}}},"layer":[{"data":{"name":"a2"},"mark":{"type":"line","style":"traj","color":"#ff2020"},"encoding":{"detail":{"field":"t"}}},{"data":{"name":"ref"},"mark":{"type":"line","style":"ref","color":"#222222"}},{"data":{"name":"ends"},"mark":{"type":"point","style":"end","color":"#333333"}},{"data":{"values":[{"s":"t","x":107,"y":106},{"s":"= 1.5 s","x":179,"y":106}]},"mark":{"type":"text","style":"big"},"encoding":{"text":{"field":"s"}}},{"data":{"values":[{"s":"update","x":119,"y":100.8}]},"mark":{"type":"text","style":"sub"},"encoding":{"text":{"field":"s"}}}]},
{"width":191,"height":102,"view":{"fill":"#00008f","stroke":"#9a9ad0"},"encoding":{"x":{"field":"x","type":"quantitative","scale":{"domain":[-7,178.4]}},"y":{"field":"y","type":"quantitative","scale":{"domain":[-51,48]}}},"layer":[{"data":{"name":"a2"},"mark":{"type":"line","style":"glow","color":"#0a30ff"},"encoding":{"detail":{"field":"t"}}},{"data":{"name":"a2"},"mark":{"type":"line","style":"core","color":"#0090ff"},"encoding":{"detail":{"field":"t"}}},{"data":{"name":"ref"},"mark":{"type":"line","style":"mid","color":"#20f0e0"}},{"data":{"name":"hot"},"transform":[{"filter":"datum.p=='a2'"}],"mark":{"type":"circle","style":"hot"},"encoding":{"order":{"field":"d"},"color":{"field":"d","type":"quantitative","legend":null,"scale":{"domain":[0,12.5,37.5,62.5,87.5,100],"range":["#00008f","#0000ff","#00ffff","#ffff00","#ff0000","#800000"]}}}}]},
{"width":247.5,"height":102,"encoding":{"x":{"field":"x","type":"quantitative","scale":{"domain":[-58.5,189]}},"y":{"field":"y","type":"quantitative","scale":{"domain":[-45.5,56.5]}}},"layer":[{"data":{"name":"a3"},"mark":{"type":"line","style":"traj","color":"#ff2020"},"encoding":{"detail":{"field":"t"}}},{"data":{"name":"ref"},"mark":{"type":"line","style":"ref","color":"#222222"}},{"data":{"name":"ends"},"mark":{"type":"point","style":"end","color":"#333333"}},{"data":{"values":[{"s":"t","x":108,"y":104.5},{"s":"= 2.0 s","x":180,"y":104.5}]},"mark":{"type":"text","style":"big"},"encoding":{"text":{"field":"s"}}},{"data":{"values":[{"s":"update","x":120,"y":99.3}]},"mark":{"type":"text","style":"sub"},"encoding":{"text":{"field":"s"}}}]},
{"width":191,"height":102,"view":{"fill":"#00008f","stroke":"#9a9ad0"},"encoding":{"x":{"field":"x","type":"quantitative","scale":{"domain":[-9.7,175.7]}},"y":{"field":"y","type":"quantitative","scale":{"domain":[-48,51]}}},"layer":[{"data":{"name":"a3"},"mark":{"type":"line","style":"glow","color":"#0a30ff"},"encoding":{"detail":{"field":"t"}}},{"data":{"name":"a3"},"mark":{"type":"line","style":"core","color":"#0090ff"},"encoding":{"detail":{"field":"t"}}},{"data":{"name":"ref"},"mark":{"type":"line","style":"mid","color":"#20f0e0"}},{"data":{"name":"hot"},"transform":[{"filter":"datum.p=='a3'"}],"mark":{"type":"circle","style":"hot"},"encoding":{"order":{"field":"d"},"color":{"field":"d","type":"quantitative","legend":null,"scale":{"domain":[0,12.5,37.5,62.5,87.5,100],"range":["#00008f","#0000ff","#00ffff","#ffff00","#ff0000","#800000"]}}}},
{"data":{"name":"colorbar"},"mark":{"type":"rule","strokeWidth":5.9},"encoding":{"x2":{"datum":277.7},"color":{"field":"d","type":"quantitative","legend":null,"scale":{"domain":[0,12.5,37.5,62.5,87.5,100],"range":["#00008f","#0000ff","#00ffff","#ffff00","#ff0000","#800000"]}}}},
{"data":{"name":"ticks"},"mark":{"type":"rule","color":"#555555","strokeWidth":1},"encoding":{"x":{"field":"tx"},"x2":{"datum":280.6}}},
{"data":{"name":"ticks"},"mark":{"type":"text","style":"barlabel"},"encoding":{"text":{"field":"s"}}},
{"data":{"values":[{"s":"Density (No. Occurrence)","x":239.8,"y":108.8}]},"mark":{"type":"text","style":"bartitle"},"encoding":{"text":{"field":"s"}}},
{"data":{"values":[{"k":"0.25","x":103.4,"y":208.8},{"k":"0.50","x":103.4,"y":171.9},{"k":"0.75","x":103.4,"y":135.5}]},"mark":{"type":"point","shape":"square","size":225,"filled":true,"opacity":1},"encoding":{"fill":{"field":"k","type":"nominal","legend":null,"scale":{"domain":["0.25","0.50","0.75"],"range":["#ff6b6b","#66d966","#6b6bff"]}}}},
{"data":{"values":[{"s":"K","x":121.4,"y":202.9},{"s":"K","x":121.4,"y":166.3},{"s":"K","x":121.4,"y":129.8},{"s":"= 0.25","x":144.4,"y":202.9},{"s":"= 0.50","x":144.4,"y":166.3},{"s":"= 0.75","x":144.4,"y":129.8}]},"mark":{"type":"text","style":"key"},"encoding":{"text":{"field":"s"}}},
{"data":{"values":[{"s":"p","x":133,"y":200.4},{"s":"p","x":133,"y":163.8},{"s":"p","x":133,"y":127.3}]},"mark":{"type":"text","style":"keysub"},"encoding":{"text":{"field":"s"}}}]},
{"width":193,"height":102,"encoding":{"x":{"field":"x","type":"quantitative","scale":{"domain":[-10,183]}},"y":{"field":"y","type":"quantitative","scale":{"domain":[-59.5,42.5]}}},"layer":[{"data":{"name":"b1"},"mark":{"type":"line","style":"traj","color":"#3fd46a"},"encoding":{"detail":{"field":"t"}}},{"data":{"name":"ref"},"mark":{"type":"line","style":"ref","color":"#222222"}},{"data":{"name":"ends"},"mark":{"type":"point","style":"end","color":"#333333"}}]},
{"width":191,"height":102,"view":{"fill":"#00008f","stroke":"#9a9ad0"},"encoding":{"x":{"field":"x","type":"quantitative","scale":{"domain":[-11.65,173.8]}},"y":{"field":"y","type":"quantitative","scale":{"domain":[-49,50]}}},"layer":[{"data":{"name":"b1"},"mark":{"type":"line","style":"glow","color":"#0a30ff"},"encoding":{"detail":{"field":"t"}}},{"data":{"name":"b1"},"mark":{"type":"line","style":"core","color":"#0090ff"},"encoding":{"detail":{"field":"t"}}},{"data":{"name":"ref"},"mark":{"type":"line","style":"mid","color":"#20f0e0"}},{"data":{"name":"hot"},"transform":[{"filter":"datum.p=='b1'"}],"mark":{"type":"circle","style":"hot"},"encoding":{"order":{"field":"d"},"color":{"field":"d","type":"quantitative","legend":null,"scale":{"domain":[0,12.5,37.5,62.5,87.5,100],"range":["#00008f","#0000ff","#00ffff","#ffff00","#ff0000","#800000"]}}}}]},
{"width":247.5,"height":102,"encoding":{"x":{"field":"x","type":"quantitative","scale":{"domain":[-60,187.5]}},"y":{"field":"y","type":"quantitative","scale":{"domain":[-59.5,42.5]}}},"layer":[{"data":{"name":"b2"},"mark":{"type":"line","style":"traj","color":"#3fd46a"},"encoding":{"detail":{"field":"t"}}},{"data":{"name":"ref"},"mark":{"type":"line","style":"ref","color":"#222222"}},{"data":{"name":"ends"},"mark":{"type":"point","style":"end","color":"#333333"}}]},
{"width":191,"height":102,"view":{"fill":"#00008f","stroke":"#9a9ad0"},"encoding":{"x":{"field":"x","type":"quantitative","scale":{"domain":[-7,178.4]}},"y":{"field":"y","type":"quantitative","scale":{"domain":[-49,50]}}},"layer":[{"data":{"name":"b2"},"mark":{"type":"line","style":"glow","color":"#0a30ff"},"encoding":{"detail":{"field":"t"}}},{"data":{"name":"b2"},"mark":{"type":"line","style":"core","color":"#0090ff"},"encoding":{"detail":{"field":"t"}}},{"data":{"name":"hot"},"transform":[{"filter":"datum.p=='b2'"}],"mark":{"type":"circle","style":"hot"},"encoding":{"order":{"field":"d"},"color":{"field":"d","type":"quantitative","legend":null,"scale":{"domain":[0,12.5,37.5,62.5,87.5,100],"range":["#00008f","#0000ff","#00ffff","#ffff00","#ff0000","#800000"]}}}}]},
{"width":247.5,"height":102,"encoding":{"x":{"field":"x","type":"quantitative","scale":{"domain":[-58.5,189]}},"y":{"field":"y","type":"quantitative","scale":{"domain":[-63.5,38.5]}}},"layer":[{"data":{"name":"b3"},"mark":{"type":"line","style":"traj","color":"#3fd46a"},"encoding":{"detail":{"field":"t"}}},{"data":{"name":"ref"},"mark":{"type":"line","style":"ref","color":"#222222"}},{"data":{"name":"ends"},"mark":{"type":"point","style":"end","color":"#333333"}}]},
{"width":191,"height":102,"view":{"fill":"#00008f","stroke":"#9a9ad0"},"encoding":{"x":{"field":"x","type":"quantitative","scale":{"domain":[-9.7,175.7]}},"y":{"field":"y","type":"quantitative","scale":{"domain":[-50,49]}}},"layer":[{"data":{"name":"b3"},"mark":{"type":"line","style":"glow","color":"#0a30ff"},"encoding":{"detail":{"field":"t"}}},{"data":{"name":"b3"},"mark":{"type":"line","style":"core","color":"#0090ff"},"encoding":{"detail":{"field":"t"}}},{"data":{"name":"ref"},"mark":{"type":"line","style":"mid","color":"#20f0e0"}},{"data":{"name":"hot"},"transform":[{"filter":"datum.p=='b3'"}],"mark":{"type":"circle","style":"hot"},"encoding":{"order":{"field":"d"},"color":{"field":"d","type":"quantitative","legend":null,"scale":{"domain":[0,12.5,37.5,62.5,87.5,100],"range":["#00008f","#0000ff","#00ffff","#ffff00","#ff0000","#800000"]}}}}]},
{"width":193,"height":102,"encoding":{"x":{"field":"x","type":"quantitative","scale":{"domain":[-10,183]}},"y":{"field":"y","type":"quantitative","scale":{"domain":[-72.5,29.5]}}},"layer":[{"data":{"name":"c1"},"mark":{"type":"line","style":"traj","color":"#2020ff"},"encoding":{"detail":{"field":"t"}}},{"data":{"name":"ref"},"mark":{"type":"line","style":"ref","color":"#222222"}},{"data":{"name":"ends"},"mark":{"type":"point","style":"end","color":"#333333"}}]},
{"width":191,"height":102,"view":{"fill":"#00008f","stroke":"#9a9ad0"},"encoding":{"x":{"field":"x","type":"quantitative","scale":{"domain":[-11.65,173.8]}},"y":{"field":"y","type":"quantitative","scale":{"domain":[-48,51]}}},"layer":[{"data":{"name":"c1"},"mark":{"type":"line","style":"glow","color":"#0a30ff"},"encoding":{"detail":{"field":"t"}}},{"data":{"name":"c1"},"mark":{"type":"line","style":"core","color":"#0090ff"},"encoding":{"detail":{"field":"t"}}},{"data":{"name":"ref"},"mark":{"type":"line","style":"mid","color":"#20f0e0"}},{"data":{"name":"hot"},"transform":[{"filter":"datum.p=='c1'"}],"mark":{"type":"circle","style":"hot"},"encoding":{"order":{"field":"d"},"color":{"field":"d","type":"quantitative","legend":null,"scale":{"domain":[0,12.5,37.5,62.5,87.5,100],"range":["#00008f","#0000ff","#00ffff","#ffff00","#ff0000","#800000"]}}}}]},
{"width":247.5,"height":102,"encoding":{"x":{"field":"x","type":"quantitative","scale":{"domain":[-60,187.5]}},"y":{"field":"y","type":"quantitative","scale":{"domain":[-73.5,28.5]}}},"layer":[{"data":{"name":"c2"},"mark":{"type":"line","style":"traj","color":"#2020ff"},"encoding":{"detail":{"field":"t"}}},{"data":{"name":"ref"},"mark":{"type":"line","style":"ref","color":"#222222"}},{"data":{"name":"ends"},"mark":{"type":"point","style":"end","color":"#333333"}}]},
{"width":191,"height":102,"view":{"fill":"#00008f","stroke":"#9a9ad0"},"encoding":{"x":{"field":"x","type":"quantitative","scale":{"domain":[-7,178.4]}},"y":{"field":"y","type":"quantitative","scale":{"domain":[-52,47]}}},"layer":[{"data":{"name":"c2"},"mark":{"type":"line","style":"glow","color":"#0a30ff"},"encoding":{"detail":{"field":"t"}}},{"data":{"name":"c2"},"mark":{"type":"line","style":"core","color":"#0090ff"},"encoding":{"detail":{"field":"t"}}},{"data":{"name":"ref"},"mark":{"type":"line","style":"mid","color":"#20f0e0"}},{"data":{"name":"hot"},"transform":[{"filter":"datum.p=='c2'"}],"mark":{"type":"circle","style":"hot"},"encoding":{"order":{"field":"d"},"color":{"field":"d","type":"quantitative","legend":null,"scale":{"domain":[0,12.5,37.5,62.5,87.5,100],"range":["#00008f","#0000ff","#00ffff","#ffff00","#ff0000","#800000"]}}}}]},
{"width":247.5,"height":102,"encoding":{"x":{"field":"x","type":"quantitative","scale":{"domain":[-58.5,189]}},"y":{"field":"y","type":"quantitative","scale":{"domain":[-73.5,28.5]}}},"layer":[{"data":{"name":"c3"},"mark":{"type":"line","style":"traj","color":"#2020ff"},"encoding":{"detail":{"field":"t"}}},{"data":{"name":"ref"},"mark":{"type":"line","style":"ref","color":"#222222"}},{"data":{"name":"ends"},"mark":{"type":"point","style":"end","color":"#333333"}}]},
{"width":191,"height":102,"view":{"fill":"#00008f","stroke":"#9a9ad0"},"encoding":{"x":{"field":"x","type":"quantitative","scale":{"domain":[-9.7,175.7]}},"y":{"field":"y","type":"quantitative","scale":{"domain":[-48,51]}}},"layer":[{"data":{"name":"c3"},"mark":{"type":"line","style":"glow","color":"#0a30ff"},"encoding":{"detail":{"field":"t"}}},{"data":{"name":"c3"},"mark":{"type":"line","style":"core","color":"#0090ff"},"encoding":{"detail":{"field":"t"}}},{"data":{"name":"ref"},"mark":{"type":"line","style":"mid","color":"#20f0e0"}},{"data":{"name":"hot"},"transform":[{"filter":"datum.p=='c3'"}],"mark":{"type":"circle","style":"hot"},"encoding":{"order":{"field":"d"},"color":{"field":"d","type":"quantitative","legend":null,"scale":{"domain":[0,12.5,37.5,62.5,87.5,100],"range":["#00008f","#0000ff","#00ffff","#ffff00","#ff0000","#800000"]}}}}]}
]}
